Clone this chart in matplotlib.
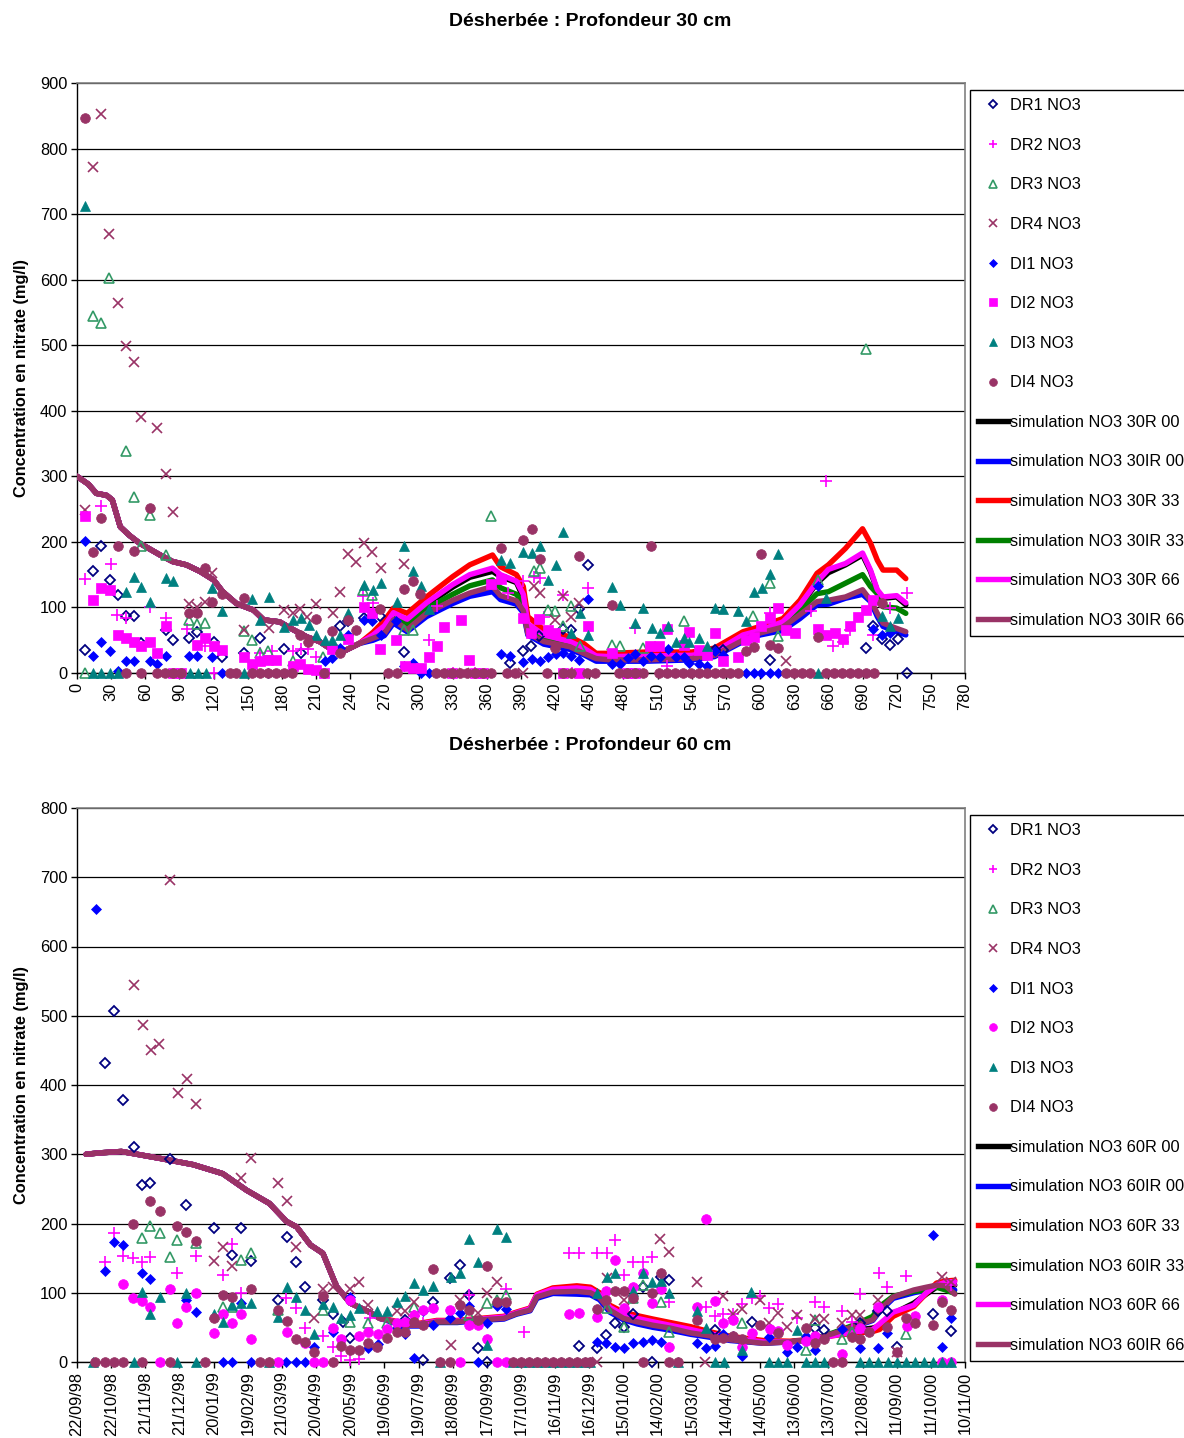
import matplotlib
matplotlib.use('Agg')
import matplotlib.pyplot as plt
from matplotlib.lines import Line2D

plt.rcParams['font.family'] = ['Liberation Sans', 'DejaVu Sans']

TITLE_30 = "Désherbée : Profondeur 30 cm"
TITLE_60 = "Désherbée : Profondeur 60 cm"
YLABEL = "Concentration en nitrate (mg/l)"
OBS_NAMES = ["DR1 NO3", "DR2 NO3", "DR3 NO3", "DR4 NO3", "DI1 NO3", "DI2 NO3", "DI3 NO3", "DI4 NO3"]
SIM_NAMES_30 = ["simulation NO3 30R 00", "simulation NO3 30IR 00", "simulation NO3 30R 33",
                "simulation NO3 30IR 33", "simulation NO3 30R 66", "simulation NO3 30IR 66"]
SIM_NAMES_60 = ["simulation NO3 60R 00", "simulation NO3 60IR 00", "simulation NO3 60R 33",
                "simulation NO3 60IR 33", "simulation NO3 60R 66", "simulation NO3 60IR 66"]

X_TICKS = [0, 30, 60, 90, 120, 150, 180, 210, 240, 270, 300, 330, 360, 390, 420, 450, 480, 510,
           540, 570, 600, 630, 660, 690, 720, 750, 780]
X_LABELS_30 = [str(v) for v in X_TICKS]
DATE_LABELS = ["22/09/98", "22/10/98", "21/11/98", "21/12/98", "20/01/99", "19/02/99", "21/03/99",
               "20/04/99", "20/05/99", "19/06/99", "19/07/99", "18/08/99", "17/09/99", "17/10/99",
               "16/11/99", "16/12/99", "15/01/00", "14/02/00", "15/03/00", "14/04/00", "14/05/00",
               "13/06/00", "13/07/00", "12/08/00", "11/09/00", "11/10/00", "10/11/00"]
Y_TICKS_30 = [0, 100, 200, 300, 400, 500, 600, 700, 800, 900]
Y_TICKS_60 = [0, 100, 200, 300, 400, 500, 600, 700, 800]

# ---------------- 30 cm observations (day, mg/l) ----------------
DR1_30 = [(7, 35), (14, 156), (21, 193), (29, 142), (36, 119), (43, 87), (50, 87), (56, 46), (78, 66),
          (84, 51), (98, 53), (105, 62), (120, 47), (127, 25), (147, 30), (161, 53), (182, 36), (197, 30),
          (231, 71), (238, 79), (252, 84), (266, 87), (287, 32), (295, 10), (380, 15), (392, 34),
          (399, 41), (406, 56), (427, 67), (434, 66), (441, 97), (449, 165), (560, 35), (567, 35),
          (609, 20), (693, 38), (699, 72), (707, 52), (714, 42), (721, 52), (729, 0)]
DR2_30 = [(7, 143), (21, 255), (30, 166), (35, 89), (43, 84), (64, 101), (78, 84), (97, 67), (112, 41),
          (161, 31), (171, 33), (190, 33), (197, 36), (203, 36), (210, 25), (251, 117), (260, 107),
          (309, 51), (316, 102), (379, 122), (392, 140), (401, 147), (407, 145), (410, 86), (427, 119),
          (449, 129), (490, 69), (518, 10), (609, 91), (645, 95), (658, 293), (664, 41), (673, 48),
          (679, 66), (699, 58), (714, 99), (729, 122), (120, 0), (435, 0), (350, 0), (330, 0)]
DR3_30 = [(7, 0), (14, 544), (21, 534), (28, 603), (43, 338), (50, 269), (56, 193), (64, 241), (78, 180),
          (98, 81), (105, 74), (112, 77), (147, 64), (154, 51), (161, 31), (168, 33), (190, 18), (216, 25),
          (251, 127), (259, 119), (287, 66), (295, 66), (364, 239), (401, 155), (407, 160), (414, 96),
          (420, 94), (427, 71), (434, 102), (442, 41), (470, 43), (477, 41), (497, 38), (533, 79),
          (594, 87), (609, 138), (616, 56), (651, 142), (693, 494)]
DR4_30 = [(7, 248), (14, 772), (21, 852), (28, 670), (36, 565), (43, 499), (50, 474), (56, 390), (70, 373),
          (78, 303), (84, 245), (98, 106), (105, 100), (112, 109), (119, 152), (147, 66), (169, 68),
          (182, 96), (190, 92), (196, 97), (202, 86), (210, 106), (225, 91), (231, 123), (238, 182),
          (245, 170), (252, 199), (259, 185), (267, 160), (287, 167), (392, 0), (401, 132), (407, 122),
          (420, 81), (427, 117), (434, 86), (441, 107), (623, 18), (340, 0)]
DI1_30 = [(7, 202), (14, 26), (21, 47), (29, 33), (36, 3), (43, 19), (50, 19), (64, 19), (70, 13), (78, 26),
          (98, 26), (105, 26), (119, 24), (127, 0), (168, 0), (218, 18), (224, 23), (231, 38), (238, 58),
          (252, 81), (259, 79), (267, 58), (280, 79), (295, 15), (302, 0), (309, 0), (372, 29), (380, 26),
          (392, 17), (400, 21), (407, 18), (414, 24), (421, 29), (427, 30), (434, 26), (441, 20),
          (449, 113), (470, 14), (477, 14), (484, 23), (490, 29), (497, 18), (504, 26), (512, 25),
          (519, 36), (526, 25), (533, 25), (538, 15), (546, 13), (553, 10), (560, 33), (567, 28),
          (588, 0), (595, 0), (601, 0), (609, 0), (616, 0), (651, 133), (699, 67), (707, 58), (714, 61),
          (287, 10)]
DI2_30 = [(7, 239), (14, 112), (21, 129), (29, 127), (36, 58), (43, 53), (50, 48), (56, 41), (64, 48),
          (70, 31), (78, 71), (105, 42), (112, 53), (120, 41), (127, 35), (147, 24), (154, 14), (161, 18),
          (168, 20), (175, 20), (190, 10), (196, 13), (203, 6), (210, 5), (224, 36), (238, 52), (252, 100),
          (259, 91), (266, 37), (280, 51), (288, 10), (295, 8), (302, 8), (309, 24), (316, 41), (322, 70),
          (337, 81), (344, 20), (364, 136), (372, 143), (392, 84), (399, 61), (406, 83), (414, 65),
          (420, 61), (449, 71), (470, 30), (503, 41), (511, 41), (518, 67), (533, 42), (538, 62),
          (546, 35), (553, 28), (560, 61), (567, 18), (581, 25), (588, 51), (595, 55), (601, 71),
          (609, 84), (616, 99), (623, 66), (631, 61), (651, 67), (658, 58), (666, 61), (673, 52),
          (679, 72), (686, 85), (693, 96), (699, 111), (84, 0), (91, 0), (217, 0), (329, 0), (350, 0),
          (357, 0), (427, 0), (441, 0), (483, 0), (490, 0)]
DI3_30 = [(7, 712), (14, 0), (21, 0), (29, 0), (36, 0), (43, 124), (50, 146), (56, 131), (64, 109),
          (78, 145), (84, 140), (99, 0), (106, 0), (113, 0), (119, 129), (127, 94), (147, 0), (154, 113),
          (161, 81), (169, 116), (182, 70), (190, 81), (197, 84), (204, 73), (210, 58), (218, 51),
          (224, 51), (231, 58), (238, 91), (252, 135), (260, 127), (267, 137), (281, 109), (287, 194),
          (295, 155), (302, 133), (309, 98), (372, 173), (380, 168), (392, 185), (400, 183), (407, 194),
          (414, 142), (421, 164), (427, 215), (434, 61), (442, 91), (449, 58), (470, 131), (477, 104),
          (490, 77), (497, 99), (505, 69), (512, 61), (519, 72), (526, 47), (533, 53), (538, 47),
          (546, 53), (553, 41), (560, 99), (567, 98), (581, 94), (588, 79), (595, 123), (602, 129),
          (609, 151), (616, 182), (651, 0), (658, 114), (707, 87), (714, 71), (721, 84)]
DI4_30 = [(7, 846), (14, 185), (21, 236), (36, 193), (50, 186), (64, 251), (98, 91), (105, 91), (112, 160),
          (119, 108), (127, 120), (147, 114), (196, 58), (203, 48), (210, 83), (224, 64), (231, 31),
          (238, 81), (245, 66), (266, 98), (287, 128), (295, 141), (301, 121), (372, 190), (392, 203),
          (400, 219), (407, 174), (441, 179), (470, 103), (504, 193), (420, 38), (601, 182), (588, 33),
          (595, 40), (609, 43), (616, 38), (651, 55), (707, 107),
          (43, 0), (56, 0), (70, 0), (77, 0), (84, 0), (91, 0), (134, 0), (140, 0), (154, 0), (161, 0),
          (168, 0), (175, 0), (182, 0), (189, 0), (217, 0), (273, 0), (281, 0), (315, 0), (322, 0),
          (329, 0), (336, 0), (343, 0), (350, 0), (357, 0), (364, 0), (378, 0), (385, 0), (413, 0),
          (427, 0), (434, 0), (448, 0), (455, 0), (476, 0), (483, 0), (490, 0), (497, 0), (511, 0),
          (518, 0), (525, 0), (532, 0), (539, 0), (546, 0), (553, 0), (560, 0), (567, 0), (574, 0),
          (581, 0), (623, 0), (630, 0), (637, 0), (644, 0), (658, 0), (665, 0), (672, 0), (679, 0),
          (686, 0), (693, 0), (700, 0)]

# ---------------- 30 cm simulations ----------------
SIM30_X_EARLY = [0, 10, 17, 26, 31, 38, 46, 55, 73, 84, 96, 108, 120, 128, 140, 155, 164, 178, 190, 202,
                 213, 220, 234, 248]
SIM30_Y_EARLY = [300, 288, 274, 271, 264, 223, 210, 198, 180, 170, 165, 155, 142, 124, 106, 96, 81, 78,
                 66, 55, 48, 40, 33, 45]
SIM30_X_LATE = [260, 270, 278, 290, 307, 330, 345, 365, 372, 386, 392, 396, 410, 433, 445, 456, 468, 500,
                540, 560, 585, 600, 620, 635, 650, 660, 675, 690, 697, 703, 708, 720, 728]
SIM30_R00 = [57, 70, 90, 80, 104, 131, 146, 155, 147, 138, 115, 72, 56, 46, 36, 25, 24, 25, 26, 30, 55, 63,
             76, 102, 137, 153, 165, 180, 155, 125, 114, 116, 104]
SIM30_IR00 = [50, 57, 76, 63, 86, 106, 117, 124, 112, 105, 92, 58, 44, 36, 28, 18, 18, 18, 20, 25, 48, 58,
              65, 83, 104, 105, 114, 120, 109, 86, 71, 63, 58]
SIM30_R33 = [62, 80, 99, 91, 116, 147, 165, 180, 162, 150, 132, 86, 66, 55, 45, 30, 30, 32, 32, 38, 63, 71,
             83, 111, 152, 165, 190, 220, 198, 172, 157, 157, 144]
SIM30_IR33 = [55, 66, 86, 73, 98, 120, 133, 142, 130, 120, 105, 66, 52, 43, 34, 24, 22, 23, 25, 29, 53, 62,
              75, 96, 121, 124, 137, 150, 132, 121, 101, 99, 91]
SIM30_R66 = [58, 72, 92, 82, 107, 135, 150, 160, 150, 140, 120, 75, 58, 48, 38, 26, 25, 26, 27, 32, 58, 65,
             78, 104, 139, 158, 167, 183, 157, 127, 116, 118, 107]
SIM30_IR66 = [53, 60, 81, 66, 91, 111, 122, 132, 118, 110, 95, 60, 48, 40, 30, 22, 20, 20, 22, 27, 50, 61,
              70, 89, 109, 111, 116, 127, 111, 91, 76, 68, 63]

# ---------------- 60 cm observations (days since 22/09/98, mg/l) ----------------
DR1_60 = [(24.6, 432), (32.8, 507), (40.7, 379), (50, 311), (57.4, 256), (64.4, 259), (81.4, 293),
          (96, 227), (120.3, 194), (136, 154), (144.3, 194), (152.5, 146), (176.5, 90), (184.4, 181),
          (192, 145), (200.6, 108), (216, 90), (225, 70), (233.6, 58), (240, 34), (288, 60), (304.2, 3),
          (313, 87), (327.7, 121), (336.5, 140), (344.4, 97), (352, 20), (360.5, 0), (441, 23),
          (456.5, 20), (464.7, 39), (472.6, 57), (480.5, 51), (488.7, 69), (497, 109), (505, 0),
          (512.7, 123), (520.3, 119), (560.4, 46), (592.5, 58), (648.2, 49), (656, 46), (687.7, 56),
          (703.8, 73), (711.7, 73), (720, 21), (752, 69), (768, 45)]
DR2_60 = [(24.6, 144), (32.8, 187), (40.7, 153), (49, 150), (57.4, 144), (64.4, 151), (88, 129),
          (104.5, 153), (128, 125), (136, 171), (144.3, 100), (184, 92), (192, 78), (200.6, 49), (216, 37),
          (225, 22), (232, 8), (240, 3), (247.6, 5), (257.4, 63), (296.3, 66), (304.2, 56), (344.6, 97),
          (376.6, 105), (392.7, 44), (432.2, 158), (441, 158), (456.5, 158), (465.3, 157), (472.6, 176),
          (480.5, 126), (488.7, 144), (497, 145), (505, 151), (520.3, 87), (552.4, 80), (560.4, 66),
          (567.7, 70), (575.9, 69), (583.8, 84), (592.5, 92), (600, 95), (608, 78), (616, 84), (632, 63),
          (648.2, 86), (656, 79), (672.2, 74), (680.4, 58), (687.7, 98), (704.4, 128), (711.7, 109),
          (728.1, 124), (768, 111)]
DR3_60 = [(57.4, 179), (64.4, 196), (72.6, 186), (81.4, 151), (88, 176), (104.5, 172), (128, 80),
          (136, 80), (144.3, 148), (152.5, 157), (176.5, 75), (216, 75), (240, 58), (255.6, 57),
          (272, 56), (296.3, 80), (344.6, 68), (360.5, 85), (369.2, 90), (376.6, 97), (465.3, 78),
          (480.5, 51), (488.7, 92), (497, 111), (512.7, 86), (520.3, 44), (583.8, 56), (640.3, 17),
          (648.2, 61), (672.2, 33), (680.4, 44), (728.1, 41)]
DR4_60 = [(50, 545), (57.7, 487), (64.7, 450), (72.3, 459), (81.7, 696), (88.4, 388), (96.3, 409),
          (104.5, 372), (120.3, 146), (128, 166), (136, 138), (144.3, 266), (152.5, 294), (176.5, 258),
          (184.4, 233), (192, 166), (208, 63), (216, 105), (225, 108), (240, 105), (247.6, 116),
          (255.6, 82), (281, 73), (288, 73), (296.3, 87), (328.5, 25), (336.5, 90), (352, 71),
          (360.5, 100), (369.2, 115), (456.5, 0), (465.3, 121), (480.5, 90), (512, 177), (520.3, 159),
          (544.2, 115), (552, 0), (567.7, 96), (575.9, 70), (583.8, 77), (600, 89), (608, 57), (616, 71),
          (623.8, 51), (632, 68), (648.2, 62), (656, 62), (672.2, 57), (680.4, 68), (687.7, 68),
          (703.8, 90), (720, 15), (759.4, 123), (768, 116)]
DI1_60 = [(16.4, 654), (24.6, 131), (32.8, 174), (40.7, 169), (57.4, 128), (64.4, 120), (96, 90),
          (104.5, 72), (144.3, 85), (128, 0), (136, 0), (152.5, 0), (184, 0), (192, 0), (200.6, 0),
          (208, 22), (225, 44), (240, 94), (255.6, 20), (264, 26), (281, 49), (288, 41), (296.3, 6),
          (304.2, 73), (313, 54), (327.7, 63), (336.5, 71), (344.4, 81), (352, 0), (360.5, 56), (369.2, 81),
          (376.6, 76), (456.5, 29), (464.7, 27), (472.6, 22), (480.5, 20), (488.7, 27), (497, 29),
          (505, 32), (512.7, 29), (544.2, 27), (552.4, 20), (560.4, 23), (567.7, 40), (575.9, 37),
          (583.8, 9), (608, 36), (623.8, 15), (632, 22), (640, 37), (648.2, 17), (672.2, 47),
          (687.7, 20), (703.8, 20), (711.7, 42), (752, 183), (760, 21), (768, 64)]
DI2_60 = [(40.7, 113), (49, 93), (57.4, 88), (64.4, 80), (81.4, 105), (88, 57), (96, 80), (104.5, 99),
          (120.3, 42), (128, 70), (136, 56), (144.3, 70), (152.5, 33), (184.4, 43), (200.6, 27), (225, 49),
          (232, 33), (240, 89), (247.6, 38), (255.6, 43), (264, 41), (272, 47), (281, 57), (288, 58),
          (296.3, 68), (304.2, 75), (313, 78), (327.7, 75), (344.4, 53), (352, 53), (360.5, 33),
          (432.2, 70), (441, 71), (456.5, 65), (464.7, 103), (472.6, 148), (480.5, 78), (488.7, 109),
          (497, 128), (505, 85), (512.7, 106), (520.3, 21), (544.2, 79), (552.4, 206), (560.4, 88),
          (567.7, 56), (575.9, 60), (583.8, 22), (592.5, 42), (608.7, 47), (616, 45), (623.3, 24),
          (640, 31), (648.2, 38), (672.2, 11), (687.7, 49), (703.8, 80), (728.7, 52), (736, 66),
          (759.4, 90), (72.6, 0), (176.5, 0), (208, 0), (216, 0), (336.5, 0), (368.7, 0), (376.6, 0),
          (760, 0), (768, 0)]
DI3_60 = [(57.4, 101), (64.4, 70), (72.6, 94), (96, 99), (120.3, 70), (128, 58), (136, 82), (144.3, 85),
          (152.5, 85), (176.5, 65), (184.4, 109), (192, 94), (200.6, 75), (208, 41), (216, 84), (225, 80),
          (232, 63), (240, 68), (247.6, 78), (263.5, 73), (272, 73), (281, 86), (288, 95), (296.3, 114),
          (304.2, 104), (313, 110), (328.5, 123), (336.5, 129), (344.4, 177), (352, 144), (360.5, 25),
          (369.2, 192), (376.6, 181), (456.5, 100), (465.3, 123), (472.6, 128), (488.7, 102), (497, 129),
          (505, 116), (512.7, 117), (520.3, 99), (544.2, 74), (552.4, 49), (583.8, 18), (592, 101),
          (632, 46),
          (14, 0), (50, 0), (88, 0), (104.5, 0), (169, 0), (319, 0), (383, 0), (390, 0), (397, 0),
          (404, 0), (411, 0), (418, 0), (425, 0), (432, 0), (439, 0), (446, 0), (451, 0), (528, 0),
          (560, 0), (568, 0), (608, 0), (616, 0), (624, 0), (640, 0), (648, 0), (656, 0), (688, 0),
          (696, 0), (704, 0), (712, 0), (720, 0), (728, 0), (736, 0), (744, 0), (752, 0), (760, 0),
          (768, 0)]
DI4_60 = [(49, 200), (64.4, 232), (72.6, 218), (88, 196), (96, 188), (104.5, 175), (120.3, 64), (128, 97),
          (136, 94), (152.5, 106), (176.5, 75), (184.4, 59), (192, 33), (200.6, 29), (208, 15), (216, 96),
          (232, 23), (240, 18), (247.6, 18), (255.6, 27), (263.5, 22), (272, 34), (281, 44), (288, 44),
          (296.3, 58), (304.2, 53), (313, 135), (336.5, 82), (344.4, 75), (352, 61), (360.5, 138),
          (369.2, 86), (376.6, 87), (456.5, 77), (464.7, 89), (472.6, 102), (480.5, 103), (488.7, 92),
          (505, 100), (512.7, 129), (544.2, 61), (560.4, 33), (567.7, 34), (575.9, 37), (583.8, 33),
          (600, 54), (616, 42), (640, 49), (648.2, 27), (656, 33), (680.4, 36), (687.7, 33), (696, 44),
          (711.7, 51), (720, 15), (728.1, 63), (736, 56), (752, 54), (760, 87), (768, 75),
          (15.5, 0), (24.6, 0), (32.8, 0), (40.7, 0), (57.4, 0), (81.4, 0), (112, 0), (160.5, 0),
          (168.6, 0), (225, 0), (319, 0), (327.7, 0), (383, 0), (390, 0), (397, 0), (404, 0), (411, 0),
          (418, 0), (425, 0), (432, 0), (439, 0), (446, 0), (451, 0), (497, 0), (520, 0), (528, 0),
          (664, 0), (672, 0)]

# ---------------- 60 cm simulations ----------------
SIM60_X_EARLY = [8, 20, 39, 73, 102, 128, 149, 169, 184, 193, 205, 216, 228, 240, 257, 266]
SIM60_Y_EARLY = [300, 302, 304, 294, 285, 272, 248, 229, 203, 195, 169, 157, 109, 85, 72, 63]
SIM60_X_LATE = [272, 287, 301, 316, 334, 354, 375, 386, 398, 404, 418, 439, 451, 459, 468, 480, 492, 506,
                521, 539, 555, 574, 603, 626, 647, 664, 685, 699, 705, 717, 735, 746, 755, 763, 771]
SIM60_R00 = [61, 54, 54, 59, 59, 62, 64, 70, 76, 96, 103, 104, 103, 96, 78, 66, 61, 56, 51, 45, 40, 34,
             28, 29, 32, 39, 46, 49, 52, 70, 85, 98, 108, 112, 111]
SIM60_IR00 = [60, 52, 52, 57, 57, 60, 62, 69, 74, 92, 99, 98, 97, 90, 72, 61, 55, 50, 46, 40, 36, 31,
              27, 29, 33, 41, 52, 60, 73, 92, 100, 104, 110, 105, 104]
SIM60_R33 = [62, 56, 56, 60, 60, 63, 66, 72, 78, 98, 107, 110, 108, 100, 82, 72, 67, 62, 57, 51, 44, 37,
             31, 30, 33, 38, 42, 44, 47, 66, 80, 99, 114, 117, 118]
SIM60_IR33 = [61, 54, 54, 58, 58, 61, 64, 70, 76, 95, 102, 103, 101, 94, 77, 65, 60, 55, 50, 44, 39, 33,
              28, 29, 33, 42, 55, 66, 80, 95, 102, 104, 108, 104, 99]
SIM60_R66 = [61, 55, 55, 59, 59, 62, 65, 71, 77, 97, 105, 107, 105, 97, 79, 68, 63, 58, 53, 47, 41, 35,
             29, 29, 32, 38, 44, 47, 55, 72, 82, 100, 111, 115, 116]
SIM60_IR66 = [61, 53, 53, 58, 58, 61, 63, 70, 75, 94, 101, 102, 100, 93, 75, 63, 58, 53, 49, 42, 38, 32,
              27, 29, 33, 41, 53, 61, 75, 94, 104, 108, 111, 110, 98]

# ---------------- styles ----------------
SIM_COLORS = ['#000000', '#0000FF', '#FF0000', '#008000', '#FF00FF', '#993366']


def obs_styles(di2_marker):
    return [
        dict(marker='D', markersize=5, markerfacecolor='none', markeredgecolor='#000080', markeredgewidth=1.3),
        dict(marker='+', markersize=8, color='#FF00FF', markeredgewidth=1.2),
        dict(marker='^', markersize=7, markerfacecolor='none', markeredgecolor='#339966', markeredgewidth=1.2),
        dict(marker='x', markersize=6.5, color='#993366', markeredgewidth=1.2),
        dict(marker='D', markersize=5.5, markerfacecolor='#0000FF', markeredgecolor='#0000FF', markeredgewidth=0.5),
        dict(marker=di2_marker, markersize=7 if di2_marker == 'o' else 6.5, markerfacecolor='#FF00FF',
             markeredgecolor='#FF00FF', markeredgewidth=0.5),
        dict(marker='^', markersize=7.5, markerfacecolor='#008080', markeredgecolor='#008080', markeredgewidth=0.5),
        dict(marker='o', markersize=7, markerfacecolor='#993366', markeredgecolor='#993366', markeredgewidth=0.5),
    ]


FS = 11.8
fig = plt.figure(figsize=(11.84, 14.38), dpi=100)
W, H = 1184.0, 1438.0


def setup(ax, ymax, yticks, labels):
    ax.set_xlim(0, 780)
    ax.set_ylim(0, ymax)
    ax.set_yticks(yticks)
    ax.set_yticklabels([str(v) for v in yticks])
    ax.set_xticks(X_TICKS)
    ax.set_xticklabels(labels, rotation=90)
    ax.tick_params(axis='both', direction='out', length=4, width=1, labelsize=FS, pad=3, color='black')
    ax.grid(axis='y', color='black', linewidth=0.9)
    ax.set_axisbelow(True)
    for s in ['top', 'right']:
        ax.spines[s].set_color('#808080')
        ax.spines[s].set_linewidth(1.2)
    for s in ['left', 'bottom']:
        ax.spines[s].set_color('black')
        ax.spines[s].set_linewidth(1.0)
    ax.set_ylabel(YLABEL, fontsize=FS, fontweight='bold')
    ax.yaxis.set_label_coords(-0.054, 0.5)


def draw(ax, obs, styles, sim_x, sims):
    for col, ys in zip(SIM_COLORS, sims):
        ax.plot(sim_x, ys, color=col, linewidth=3.9, solid_joinstyle='round', solid_capstyle='round', zorder=3)
    for pts, st in zip(obs, styles):
        ax.plot([p[0] for p in pts], [p[1] for p in pts], linestyle='none', clip_on=False, zorder=4, **st)


def legend(top_px, styles, sim_names):
    handles = [Line2D([], [], linestyle='none', **st) for st in styles]
    handles += [Line2D([], [], color=c, linewidth=3.9) for c in SIM_COLORS]
    labels = OBS_NAMES + sim_names
    fig.legend(handles, labels, loc='upper left', bbox_to_anchor=(970 / W, 1 - top_px / H),
               frameon=True, fancybox=False, edgecolor='black', framealpha=1, fontsize=FS,
               borderaxespad=0, borderpad=0.5, labelspacing=1.5, handlelength=1.8,
               handletextpad=0.12, markerscale=0.8)


# ---- top chart ----
ax1 = fig.add_axes([77 / W, 1 - 673 / H, 888 / W, 590 / H])
setup(ax1, 900, Y_TICKS_30, X_LABELS_30)
sim30_x = SIM30_X_EARLY + SIM30_X_LATE
sims30 = [SIM30_Y_EARLY + s for s in [SIM30_R00, SIM30_IR00, SIM30_R33, SIM30_IR33, SIM30_R66, SIM30_IR66]]
st30 = obs_styles('s')
draw(ax1, [DR1_30, DR2_30, DR3_30, DR4_30, DI1_30, DI2_30, DI3_30, DI4_30], st30, sim30_x, sims30)
fig.text(590 / W, 1 - 21 / H, TITLE_30, ha='center', va='center', fontsize=14, fontweight='bold')
legend(90, st30, SIM_NAMES_30)

# ---- bottom chart ----
ax2 = fig.add_axes([77 / W, 1 - 1362 / H, 888 / W, 554 / H])
setup(ax2, 800, Y_TICKS_60, DATE_LABELS)
sim60_x = SIM60_X_EARLY + SIM60_X_LATE
sims60 = [SIM60_Y_EARLY + s for s in [SIM60_R00, SIM60_IR00, SIM60_R33, SIM60_IR33, SIM60_R66, SIM60_IR66]]
st60 = obs_styles('o')
draw(ax2, [DR1_60, DR2_60, DR3_60, DR4_60, DI1_60, DI2_60, DI3_60, DI4_60], st60, sim60_x, sims60)
fig.text(590 / W, 1 - 746 / H, TITLE_60, ha='center', va='center', fontsize=14, fontweight='bold')
legend(815, st60, SIM_NAMES_60)

fig.savefig('out.png', dpi=100)
